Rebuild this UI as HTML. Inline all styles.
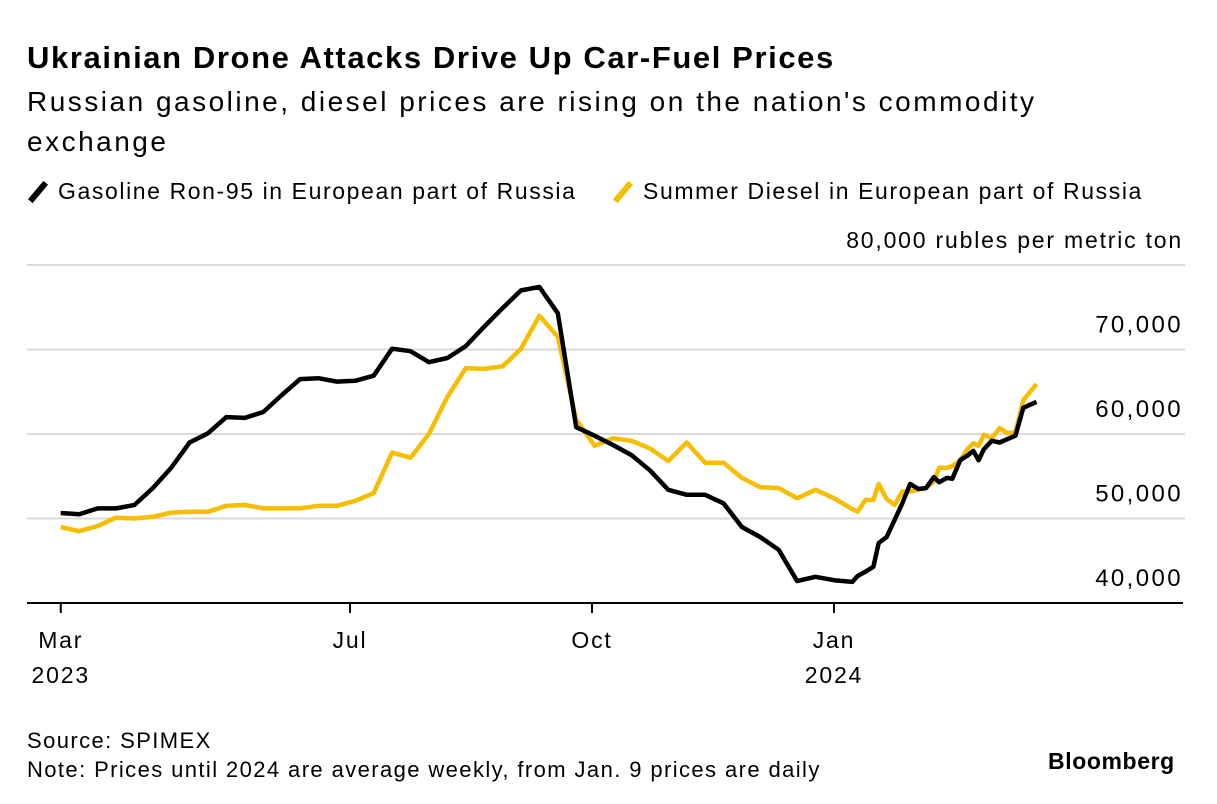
<!DOCTYPE html>
<html><head><meta charset="utf-8"><style>
body{margin:0;background:#fff;width:1217px;height:804px;overflow:hidden;font-family:"Liberation Sans",sans-serif;color:#000}
.t{position:absolute;white-space:nowrap}
</style></head><body>
<div class="t" style="left:27px;top:40px;font-size:31px;font-weight:bold;letter-spacing:1.6px">Ukrainian Drone Attacks Drive Up Car-Fuel Prices</div>
<div class="t" style="left:27px;top:82px;font-size:28px;letter-spacing:2.5px;line-height:40px">Russian gasoline, diesel prices are rising on the nation's commodity<br>exchange</div>
<div class="t" style="left:27px;top:178px;font-size:23px;letter-spacing:1.6px"><span style="display:inline-block;width:6px;height:24px;background:#000;transform:rotate(40deg);vertical-align:-5px;margin:0 17px 0 8px"></span>Gasoline Ron-95 in European part of Russia</div>
<div class="t" style="left:612px;top:178px;font-size:23px;letter-spacing:1.6px"><span style="display:inline-block;width:6px;height:24px;background:#f7bd00;transform:rotate(40deg);vertical-align:-5px;margin:0 17px 0 8px"></span>Summer Diesel in European part of Russia</div>
<svg id="c" width="1217" height="804" style="position:absolute;left:0;top:0"></svg>
<div class="t" style="left:27px;top:726px;font-size:22px;letter-spacing:1.4px;line-height:29px">Source: SPIMEX<br>Note: Prices until 2024 are average weekly, from Jan. 9 prices are daily</div>
<div class="t" style="left:1048px;top:748px;font-size:23px;font-weight:bold;letter-spacing:0.6px">Bloomberg</div>
<script>
const weeklyDays=[71,78,85,92,99,106,113,120,127,134,141,148,155,162,169,176,183,190,197,204,211,218,225,232,239,246,253,260,267,274,281,288,295,302,309,316,323,330,337,344,351,358,365,372];
const gasWeekly=[50650,50500,51200,51200,51600,53600,56000,59000,60100,62000,61900,62600,64600,66500,66600,66200,66300,66900,70100,69800,68500,69000,70400,72700,74900,77000,77400,74300,60800,59800,58700,57500,55700,53400,52800,52800,51800,49000,47800,46300,42600,43100,42700,42500];
const dieselWeekly=[49000,48500,49100,50100,50000,50200,50700,50800,50800,51500,51600,51200,51200,51200,51500,51500,52100,53000,57800,57200,60000,64400,67800,67700,68000,70100,74000,71500,61700,58600,59500,59200,58300,56800,59000,56600,56600,54800,53700,53600,52400,53400,52400,51100];
const dailyDays=[374,377,380,382,385,388,391,394,397,400,403,405,408,410,413,416,418,420,422,425,428,431,434,437,442];
const gasDaily=[43200,43700,44300,47100,47800,49800,51800,54100,53500,53600,54900,54300,54800,54700,56900,57500,58000,56900,58200,59200,59000,59400,59800,63100,63800];
const dieselDaily=[50800,52200,52200,54100,52300,51600,53200,53200,53400,53600,54400,56000,56000,56200,56900,58300,58900,58600,59900,59500,60700,60100,60200,64000,65900];
const yTicks=[40000,50000,60000,70000,80000];
const xTickDays=[71,181,273,365];
const xTickLabels=["Mar","Jul","Oct","Jan"];
const xTickYears=["2023","","","2024"];
const NS="http://www.w3.org/2000/svg";
const svg=document.getElementById('c');
const x=d=>592+(d-273)*2.63;
const y=v=>603-(v-40000)*0.00845;
function mk(t,a){const e=document.createElementNS(NS,t);for(const k in a)e.setAttribute(k,a[k]);svg.appendChild(e);return e;}
const F={'font-size':23,'letter-spacing':1.8,'font-family':'Liberation Sans, sans-serif'};
const FY={'font-size':24,'letter-spacing':2.4,'font-family':'Liberation Sans, sans-serif'};
yTicks.forEach((v,i)=>{
  if(i>0){const g=mk('line',{x1:27,x2:1185,y1:y(v),y2:y(v),stroke:'#d9d9d9','stroke-width':2});
  
  }
  const t=mk('text',Object.assign({x:1183,y:y(v)-17,'text-anchor':'end'},i==yTicks.length-1?F:FY));
  t.textContent=v.toLocaleString('en-US')+(i==yTicks.length-1?' rubles per metric ton':'');
  
  
});
const ax=mk('line',{x1:27,x2:1183,y1:603,y2:603,stroke:'#000','stroke-width':2});


xTickDays.forEach((d,i)=>{
  const l=mk('line',{x1:x(d),x2:x(d),y1:603,y2:613,stroke:'#000','stroke-width':2});
  
  
  const t=mk('text',Object.assign({x:x(d),y:648,'text-anchor':'middle'},F));
  t.textContent=xTickLabels[i];
  
  
  if(xTickYears[i]){const t2=mk('text',Object.assign({x:x(d),y:683,'text-anchor':'middle'},F));
  t2.textContent=xTickYears[i];
  
  }
});
function line(days,vals,color,name){
  const p=mk('path',{d:days.map((d,i)=>(i?'L':'M')+x(d).toFixed(1)+','+y(vals[i]).toFixed(1)).join(''),fill:'none',stroke:color,'stroke-width':4.5,'stroke-linejoin':'round'});
  
  
}
const allDays=weeklyDays.concat(dailyDays);
line(allDays,dieselWeekly.concat(dieselDaily),'#f7bd00','diesel-line');
line(allDays,gasWeekly.concat(gasDaily),'#000','gasoline-line');
</script>
</body></html>
